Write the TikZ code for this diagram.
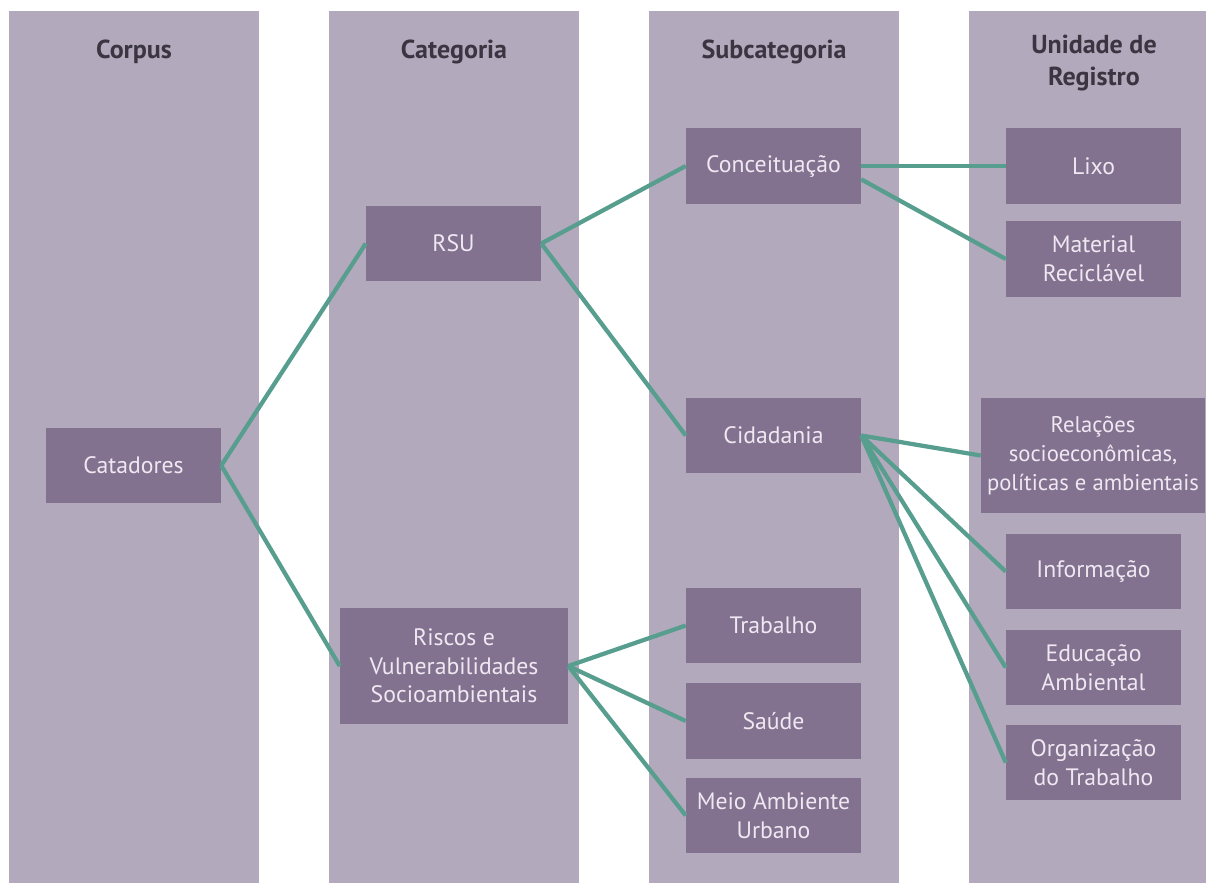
\documentclass[tikz,border=0pt]{standalone}
\usepackage{fontspec}
\setmainfont{PT Sans}
\definecolor{colfill}{HTML}{B3A9BD}
\definecolor{boxfill}{HTML}{83728F}
\definecolor{boxtext}{HTML}{EFE8F2}
\definecolor{headtext}{HTML}{3A3540}
\definecolor{linkcol}{HTML}{589E8F}
\begin{document}
\begin{tikzpicture}[x=0.75pt,y=-0.75pt,
  column/.style={fill=colfill},
  head/.style={text=headtext, align=center, inner sep=0pt,
    font=\fontsize{19.5}{23.5}\selectfont\bfseries},
  box/.style={fill=boxfill, text=boxtext, align=center, inner sep=0pt,
    minimum width=131.25pt, minimum height=56.5pt,
    font=\fontsize{17.8}{21.5}\selectfont},
  widebox/.style={box, minimum width=168pt, minimum height=86.25pt},
  link/.style={draw=linkcol, line width=3.2pt}
]
\useasboundingbox (0,0) rectangle (1206,883);
\fill[white] (0,0) rectangle (1206,883);

% four column bands
\fill[column] (9,11) rectangle (259,883);
\fill[column] (329,11) rectangle (579,883);
\fill[column] (649,11) rectangle (899,883);
\fill[column] (969,11) rectangle (1206,883);

% column headings
\node[head] (hcorpus) at (134,52) {Corpus};
\node[head] (hcat) at (454,52) {Categoria};
\node[head] (hsub) at (774,52) {Subcategoria};
\node[head] (hunid) at (1094,63) {Unidade de\\Registro};

% corpus
\node[box] (cat) at (133.5,465.5) {Catadores};

% categories
\node[box] (rsu) at (453.5,243.5) {RSU};
\node[widebox, minimum width=171pt, minimum height=87pt] (risc) at (454,666) {Riscos e\\Vulnerabilidades\\Socioambientais};

% subcategories
\node[box] (conc) at (773.5,166) {Conceituação};
\node[box] (cid) at (773.5,435.5) {Cidadania};
\node[box] (trab) at (773.5,625.5) {Trabalho};
\node[box] (saude) at (773.5,721) {Saúde};
\node[box] (meio) at (773.5,815.5) {Meio Ambiente\\Urbano};

% registration units
\node[box] (lixo) at (1093.5,166) {Lixo};
\node[box] (mat) at (1093.5,259) {Material\\Reciclável};
\node[widebox, font=\fontsize{17}{21.5}\selectfont] (rel) at (1093,455.5) {Relações\\socioeconômicas,\\políticas e ambientais};
\node[box] (info) at (1093.5,571.5) {Informação};
\node[box] (edu) at (1093.5,667.5) {Educação\\Ambiental};
\node[box] (org) at (1093.5,762.5) {Organização\\do Trabalho};

% connectors
\draw[link] (cat.east) -- (rsu.west);
\draw[link] (cat.east) -- (risc.west);
\draw[link] (rsu.east) -- (conc.west);
\draw[link] (rsu.east) -- (cid.west);
\draw[link] (risc.east) -- (trab.west);
\draw[link] (risc.east) -- (saude.west);
\draw[link] (risc.east) -- (meio.west);
\draw[link] (conc.east) -- (lixo.west);
\draw[link] ([yshift=-10pt]conc.east) -- (mat.west);
\draw[link] (cid.east) -- (rel.west);
\draw[link] (cid.east) -- (info.west);
\draw[link] (cid.east) -- (edu.west);
\draw[link] (cid.east) -- (org.west);
\end{tikzpicture}
\end{document}
